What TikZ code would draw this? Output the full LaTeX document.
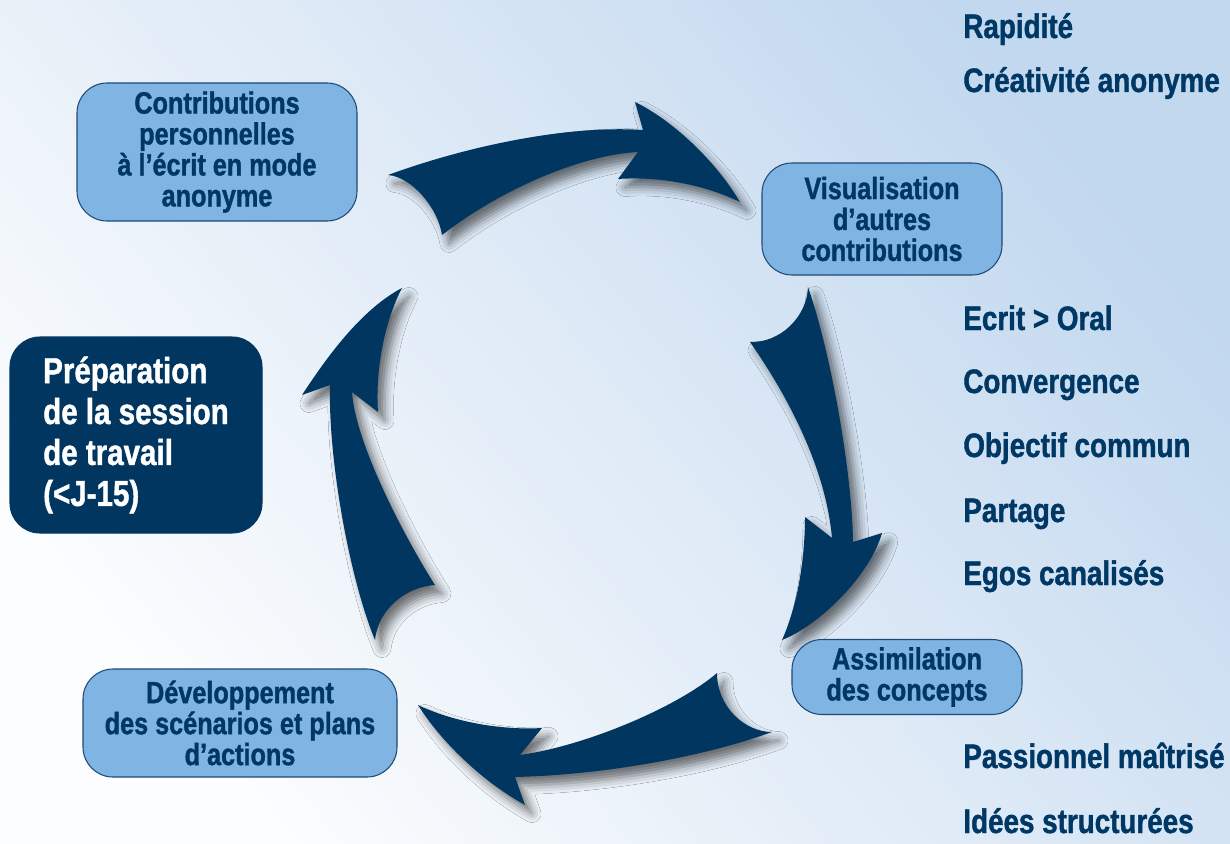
\documentclass[tikz,border=0pt]{standalone}
\usepackage{fontspec}
\setmainfont{Liberation Sans}[FakeStretch=0.82, BoldFeatures={FakeBold=1.2}]
\usepackage{tikz}
\usetikzlibrary{shadows.blur}
\definecolor{arrowblue}{HTML}{003660}
\definecolor{boxfill}{HTML}{80B4E2}
\definecolor{boxline}{HTML}{1F4A78}
\definecolor{textblue}{HTML}{003865}
\definecolor{bgtop}{HTML}{C2D8EF}
\definecolor{bgmid}{HTML}{EDF3FA}
\definecolor{bglow}{HTML}{FCFDFE}

\begin{document}
\begin{tikzpicture}[
  etape/.style={draw=boxline, line width=0.6pt, fill=boxfill, rounded corners=0.6cm,
    text=textblue, font=\bfseries\fontsize{17.5}{17.6}\selectfont, align=center, inner sep=0pt},
  atout/.style={anchor=base west, inner sep=0pt, text=textblue,
    font=\bfseries\fontsize{19.3}{20}\selectfont},
  fleche/.style={fill=arrowblue, blur shadow={shadow xshift=0.14cm, shadow yshift=-0.17cm,
    shadow blur radius=0.18cm, shadow opacity=55}}]
\useasboundingbox (0cm,0cm) rectangle (24.6cm,-16.86cm);
\shade[top color=bgtop, middle color=bgmid, bottom color=bglow, shading angle=-50]
  (0cm,0cm) rectangle (24.6cm,-16.86cm);

% les quatre fleches du cycle
\fill[fleche] (7.76cm,-3.5cm) .. controls (9.4cm,-2.9cm) and (11.4cm,-2.5cm) .. (12.86cm,-2.6cm)
  -- (12.7cm,-2.04cm) .. controls (13.44cm,-2.4cm) and (14.3cm,-3.2cm) .. (14.8cm,-4.04cm)
  .. controls (14.1cm,-3.7cm) and (13.2cm,-3.52cm) .. (12.36cm,-3.58cm)
  -- (12.76cm,-3.04cm) .. controls (11.6cm,-3.1cm) and (10cm,-3.8cm) .. (8.84cm,-4.7cm)
  .. controls (8.76cm,-4.16cm) and (8.24cm,-3.54cm) .. cycle;
\fill[fleche] (15cm,-6.84cm) .. controls (15.6cm,-6.86cm) and (16.14cm,-6.34cm) .. (16.16cm,-5.74cm)
  .. controls (16.6cm,-7cm) and (17.04cm,-9.4cm) .. (17.06cm,-10.84cm)
  -- (17.64cm,-10.66cm) .. controls (17.4cm,-11.5cm) and (16.4cm,-12.5cm) .. (15.64cm,-12.8cm)
  .. controls (16cm,-12cm) and (16.1cm,-11cm) .. (16.1cm,-10.34cm)
  -- (16.64cm,-10.76cm) .. controls (16.5cm,-9.2cm) and (15.6cm,-7.7cm) .. cycle;
\fill[fleche] (14.34cm,-13.46cm) .. controls (14.34cm,-14.14cm) and (14.9cm,-14.64cm) .. (15.44cm,-14.64cm)
  .. controls (14cm,-15.16cm) and (12cm,-15.5cm) .. (10.3cm,-15.54cm)
  -- (10.5cm,-16.1cm) .. controls (9.6cm,-15.6cm) and (8.8cm,-14.8cm) .. (8.36cm,-14.1cm)
  .. controls (9.2cm,-14.5cm) and (10.2cm,-14.6cm) .. (10.84cm,-14.56cm)
  -- (10.4cm,-15.1cm) .. controls (11.8cm,-14.9cm) and (13.6cm,-14.1cm) .. cycle;
\fill[fleche] (7.5cm,-12.8cm) .. controls (7.56cm,-12.2cm) and (8.1cm,-11.74cm) .. (8.7cm,-11.7cm)
  .. controls (8cm,-10.6cm) and (7.1cm,-8.8cm) .. (7.04cm,-7.84cm)
  -- (7.56cm,-8.24cm) .. controls (7.5cm,-7.4cm) and (7.7cm,-6.4cm) .. (8.04cm,-5.76cm)
  .. controls (7.2cm,-6.2cm) and (6.5cm,-7.2cm) .. (6.04cm,-7.9cm)
  -- (6.6cm,-7.7cm) .. controls (6.56cm,-9.2cm) and (7cm,-11.6cm) .. cycle;

% etapes
\node[etape, minimum width=5.6cm, minimum height=2.76cm] (contrib) at (4.34cm,-3.04cm)
  {Contributions\\personnelles\\à l’écrit en mode\\anonyme};
\node[etape, minimum width=4.8cm, minimum height=2.24cm] (visu) at (17.64cm,-4.38cm)
  {Visualisation\\d’autres\\contributions};
\node[etape, minimum width=4.6cm, minimum height=1.5cm] (assim) at (18.14cm,-13.54cm)
  {Assimilation\\des concepts};
\node[etape, minimum width=6.28cm, minimum height=2.16cm] (devel) at (4.8cm,-14.46cm)
  {Développement\\des scénarios et plans\\d’actions};
\node[etape, draw=arrowblue, fill=arrowblue, text=white, align=left,
  font=\bfseries\fontsize{20.5}{23.3}\selectfont,
  minimum width=5.04cm, minimum height=3.92cm] (prep) at (2.72cm,-8.7cm)
  {Préparation\\de la session\\de travail\\(<J-15)};

% atouts
\node[atout] (rapid) at (19.26cm,-0.76cm) {Rapidité};
\node[atout] (creat) at (19.26cm,-1.84cm) {Créativité anonyme};
\node[atout] (ecrit) at (19.26cm,-6.6cm) {Ecrit > Oral};
\node[atout] (conv) at (19.26cm,-7.86cm) {Convergence};
\node[atout] (obj) at (19.26cm,-9.14cm) {Objectif commun};
\node[atout] (part) at (19.26cm,-10.44cm) {Partage};
\node[atout] (egos) at (19.26cm,-11.7cm) {Egos canalisés};
\node[atout] (passion) at (19.26cm,-15.36cm) {Passionnel maîtrisé};
\node[atout] (idees) at (19.26cm,-16.66cm) {Idées structurées};
\end{tikzpicture}
\end{document}
